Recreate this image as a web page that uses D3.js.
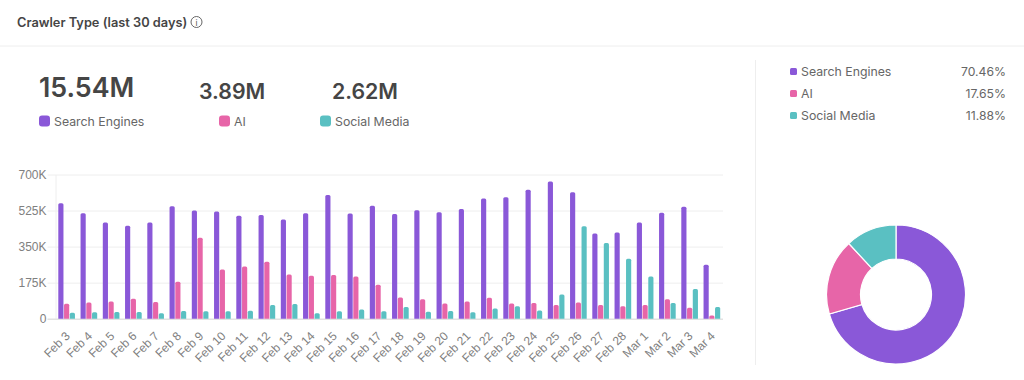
<!DOCTYPE html>
<html>
<head>
<meta charset="utf-8">
<script src="https://cdn.jsdelivr.net/npm/d3@7"></script>
<style>
    html, body { margin: 0; padding: 0; background: #fff; }
    svg { display: block; font-family: Inter, sans-serif; }
    .tick text { font-family: "Liberation Sans", sans-serif; font-size: 12px; fill: #808080; }
</style>
</head>
<body>
<div id="chart"></div>
<script>
// values
const days = ["Feb 3", "Feb 4", "Feb 5", "Feb 6", "Feb 7", "Feb 8", "Feb 9", "Feb 10", "Feb 11", "Feb 12",
    "Feb 13", "Feb 14", "Feb 15", "Feb 16", "Feb 17", "Feb 18", "Feb 19", "Feb 20", "Feb 21", "Feb 22",
    "Feb 23", "Feb 24", "Feb 25", "Feb 26", "Feb 27", "Feb 28", "Mar 1", "Mar 2", "Mar 3", "Mar 4"];
const searchEngines = [561, 512, 467, 451, 467, 546, 525, 520, 500, 503, 482, 512, 600, 511, 548,
    508, 527, 517, 532, 584, 590, 626, 666, 614, 414, 419, 467, 514, 543, 262];
const ai = [73, 79, 84, 97, 81, 179, 393, 239, 254, 276, 215, 209, 212, 205, 165,
    103, 94, 74, 84, 102, 74, 76, 66, 79, 66, 61, 66, 95, 53, 16];
const socialMedia = [29, 31, 32, 32, 27, 37, 36, 36, 39, 66, 71, 27, 36, 45, 36,
    57, 34, 37, 31, 50, 60, 40, 118, 449, 367, 291, 205, 76, 144, 57];

const seriesNames = ["Search Engines", "AI", "Social Media"];
const seriesValues = [searchEngines, ai, socialMedia];
const seriesColors = ["#8a58d8", "#e765a8", "#5ac0c2"];
const totals = ["15.54M", "3.89M", "2.62M"];
const shares = [70.46, 17.65, 11.88];
const yTicks = [0, 175, 350, 525, 700];

const svg = d3.select("#chart").append("svg")
    .attr("width", 1024)
    .attr("height", 380);

// header
svg.append("text").attr("x", 17).attr("y", 26.5)
    .attr("font-size", 12.8).attr("font-weight", 600).attr("fill", "#454545")
    .text("Crawler Type (last 30 days)");
svg.append("circle").attr("cx", 196.5).attr("cy", 22).attr("r", 5.5)
    .attr("fill", "none").attr("stroke", "#555").attr("stroke-width", 0.9);
svg.append("text").attr("x", 196.5).attr("y", 25.5).attr("text-anchor", "middle")
    .attr("font-size", 8.5).attr("fill", "#555").text("i");

// dividers
svg.append("line").attr("x1", 0).attr("x2", 1024).attr("y1", 46).attr("y2", 46).attr("stroke", "#eeeeee");
svg.append("line").attr("x1", 755.5).attr("x2", 755.5).attr("y1", 60).attr("y2", 365).attr("stroke", "#eeeeee");

// big numbers over their legend keys
const kpis = [
    {x: 39, keyX: 39, y: 97, size: 26.8},
    {x: 199, keyX: 219, y: 99, size: 21.3},
    {x: 332, keyX: 320, y: 99, size: 21.3}
];
kpis.forEach((k, i) => {
    svg.append("text").attr("x", k.x).attr("y", k.y)
        .attr("font-size", k.size).attr("font-weight", 600).attr("fill", "#454545")
        .text(totals[i]);
    svg.append("rect").attr("x", k.keyX).attr("y", 115.5).attr("width", 11).attr("height", 11).attr("rx", 3)
        .attr("fill", seriesColors[i]);
    svg.append("text").attr("x", k.keyX + 15).attr("y", 126)
        .attr("font-size", 12.3).attr("fill", "#666").text(seriesNames[i]);
});

// bar chart
const x = d3.scaleBand().domain(days).range([55.5, 723]).paddingInner(0.2).paddingOuter(0.1);
const xInner = d3.scaleBand().domain(d3.range(3)).range([0, x.bandwidth()]).padding(0.1);
const y = d3.scaleLinear().domain([0, 700]).range([318.7, 174.5]);

const yAxis = svg.append("g")
    .attr("transform", "translate(55.5,0)")
    .call(d3.axisLeft(y).tickValues(yTicks).tickSize(0).tickPadding(9).tickFormat(d => d ? d + "K" : "0"));
yAxis.select(".domain").attr("stroke", "#eeeeee");
yAxis.selectAll(".tick line")
    .attr("x1", -8).attr("x2", 723 - 55.5)
    .attr("stroke", d => d ? "#eeeeee" : "#e2e2e2")
    .attr("stroke-width", d => d ? 1 : 1.5);

const xAxis = svg.append("g")
    .attr("transform", "translate(0,318.7)")
    .call(d3.axisBottom(x).tickSize(0));
xAxis.select(".domain").remove();
// rotate each label round its own end, just under the group
xAxis.selectAll("text")
    .attr("x", 0)
    .attr("y", 0)
    .attr("dy", "0.35em")
    .attr("text-anchor", "end")
    .attr("transform", "translate(1,15) rotate(-45)");

const groups = svg.append("g").selectAll("g")
    .data(days).enter().append("g")
    .attr("transform", d => `translate(${x(d)},0)`);

groups.selectAll("path")
    .data((d, i) => seriesValues.map((s, j) => ({j: j, value: s[i]})))
    .enter().append("path")
    .attr("fill", d => seriesColors[d.j])
    .attr("d", d => {
        const x0 = xInner(d.j), w = xInner.bandwidth(), r = 1.5, top = y(d.value), base = y(0);
        return `M${x0},${base}V${top + r}Q${x0},${top} ${x0 + r},${top}H${x0 + w - r}Q${x0 + w},${top} ${x0 + w},${top + r}V${base}Z`;
    });

// right legend
seriesNames.forEach((name, i) => {
    const rowY = 71.5 + i * 22;
    svg.append("rect").attr("x", 790).attr("y", rowY - 3.5).attr("width", 7).attr("height", 7).attr("rx", 1.5)
        .attr("fill", seriesColors[i]);
    svg.append("text").attr("x", 801).attr("y", rowY + 4.5)
        .attr("font-size", 12.3).attr("fill", "#666").text(name);
    svg.append("text").attr("x", 1006).attr("y", rowY + 4).attr("text-anchor", "end")
        .attr("font-size", 12.2).attr("fill", "#666").text(shares[i] + "%");
});

// donut
const pie = d3.pie().sort(null);
const arc = d3.arc().innerRadius(35.5).outerRadius(69.5);
svg.append("g")
    .attr("transform", "translate(896,294.5)")
    .selectAll("path")
    .data(pie(shares))
    .enter().append("path")
    .attr("d", arc)
    .attr("fill", (d, i) => seriesColors[i])
    .attr("stroke", "#fff")
    .attr("stroke-width", 1.2);
</script>
</body>
</html>
